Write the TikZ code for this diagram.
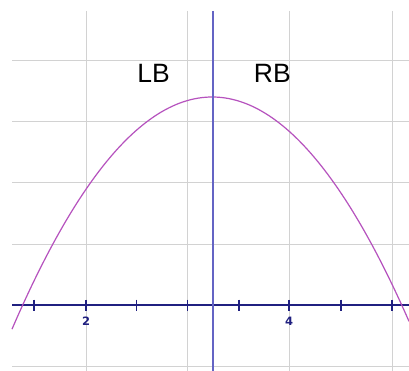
\documentclass[tikz,border=0pt]{standalone}
\usepackage{fontspec}
\setmainfont{Liberation Sans}
\newfontfamily\tickfont{DejaVu Sans}
\definecolor{gridgray}{RGB}{210,210,210}
\definecolor{axisnavy}{RGB}{32,32,128}
\definecolor{vlineblue}{RGB}{100,100,196}
\definecolor{curvepurple}{RGB}{182,82,190}
\begin{document}
\begin{tikzpicture}[x=1pt,y=-1pt,
  gridline/.style={draw=gridgray,line width=1pt},
  axisline/.style={draw=axisnavy,line width=1.4pt},
  tickmark/.style={draw=axisnavy,line width=1.2pt},
  vline/.style={draw=vlineblue,line width=1.5pt},
  curve/.style={draw=curvepurple,line width=1.2pt},
  bigtxt/.style={font=\fontsize{26.5}{28}\selectfont,text=black,inner sep=0pt,anchor=base},
  ticklbl/.style={font=\tickfont\bfseries\fontsize{11.5}{13}\selectfont,text=axisnavy,inner sep=0pt,anchor=base}]
\useasboundingbox (0,0) rectangle (409,371);
\fill[white] (0,0) rectangle (409,371);
% grid
\foreach \gx in {86,187,289,392} \draw[gridline] (\gx,11) -- (\gx,371);
\foreach \gy in {61,122,183,244,366} \draw[gridline] (12,\gy) -- (409,\gy);
% axis
\coordinate (axL) at (12,305);
\coordinate (axR) at (409,305);
\draw[axisline] (axL) -- (axR);
\foreach \tx in {34,86,136.5,187.5,239,289,341,392} \draw[tickmark] (\tx,299.5) -- (\tx,311);
\node[ticklbl] (t2) at (86,325.7) {2};
\node[ticklbl] (t4) at (289,325.7) {4};
% parabola
\draw[curve] plot[domain=12:409,samples=120,smooth] (\x,{305-208*(1-((\x-212.2)/189.5)^2)});
% axis of symmetry
\coordinate (vT) at (213,11);
\coordinate (vB) at (213,371);
\draw[vline] (vT) -- (vB);
% labels
\node[bigtxt] (lb) at (153.7,82.7) {LB};
\node[bigtxt] (rb) at (272.3,82.7) {RB};
\end{tikzpicture}
\end{document}
